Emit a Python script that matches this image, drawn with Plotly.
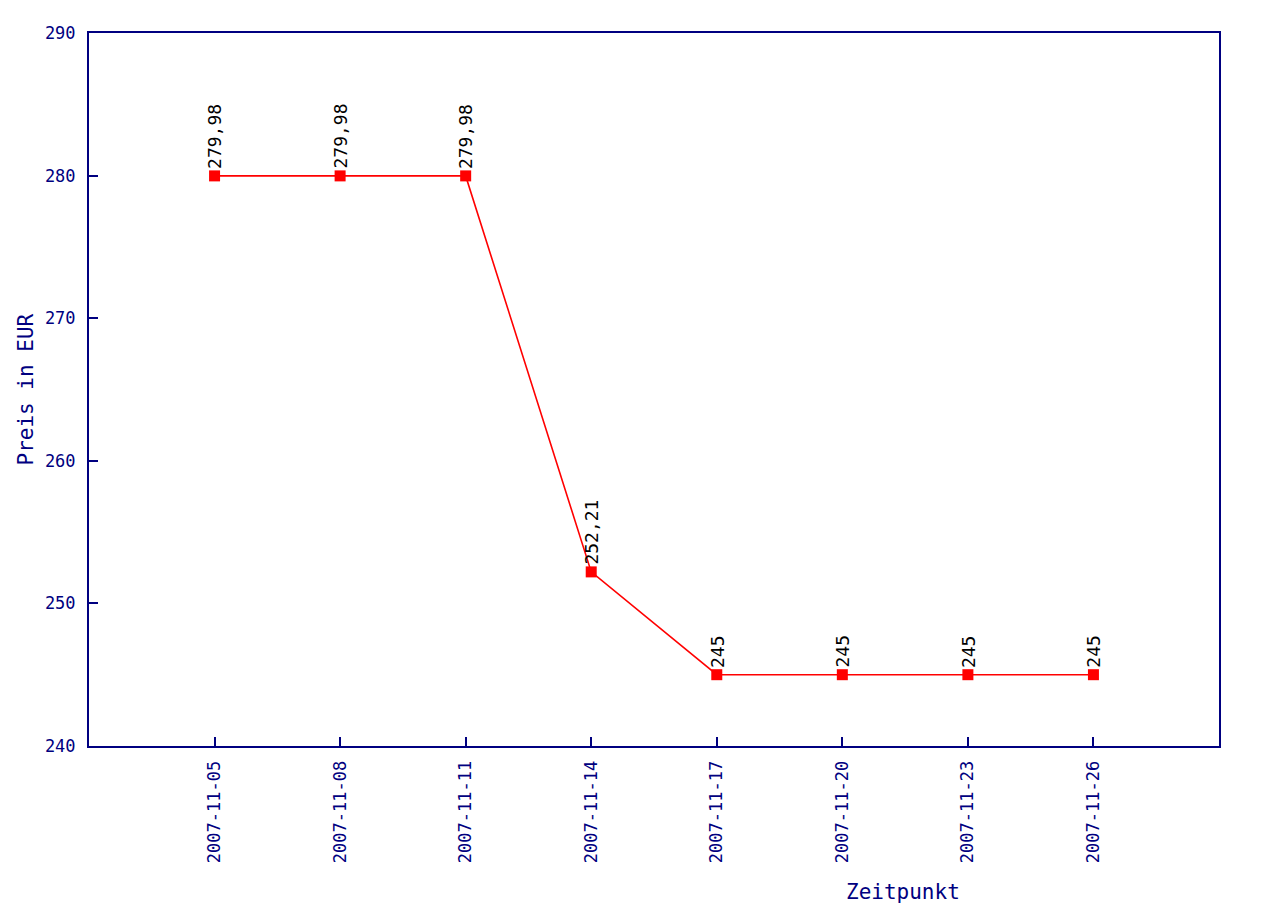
import plotly.graph_objects as go

dates = ["2007-11-05", "2007-11-08", "2007-11-11", "2007-11-14",
         "2007-11-17", "2007-11-20", "2007-11-23", "2007-11-26"]
prices = [279.98, 279.98, 279.98, 252.21, 245, 245, 245, 245]
price_labels = ["279,98", "279,98", "279,98", "252,21", "245", "245", "245", "245"]
y_ticks = [240, 250, 260, 270, 280, 290]

NAVY = "#000080"
FONT = "DejaVu Sans Mono"
L, R, T, B = 89, 1219, 33, 746
PW, PH = R - L, B - T

fig = go.Figure()
fig.add_trace(go.Scatter(
    x=dates, y=prices, mode="lines+markers",
    line=dict(color="#ff0000", width=1.6),
    marker=dict(symbol="square", size=11, color="#ff0000"),
    showlegend=False, hoverinfo="skip",
))

for d, p, lab in zip(dates, prices, price_labels):
    fig.add_annotation(x=d, y=p, text=lab, textangle=-90, showarrow=False,
                       xanchor="center", yanchor="bottom", yshift=5,
                       font=dict(family=FONT, size=18, color="#000000"))

fig.add_annotation(xref="paper", yref="paper", x=(903 - L) / PW, y=-(892 - B) / PH,
                   text="Zeitpunkt", showarrow=False, xanchor="center", yanchor="middle",
                   font=dict(family=FONT, size=21, color=NAVY))
fig.add_annotation(xref="paper", yref="paper", x=(25 - L) / PW, y=0.5,
                   text="Preis in EUR", textangle=-90, showarrow=False,
                   xanchor="center", yanchor="middle",
                   font=dict(family=FONT, size=21, color=NAVY))

fig.update_layout(
    width=1280, height=916,
    margin=dict(l=L, r=1280 - R, t=T, b=916 - B),
    paper_bgcolor="white", plot_bgcolor="white",
    font=dict(family=FONT, color=NAVY),
)
fig.update_xaxes(
    type="category", categoryorder="array", categoryarray=dates,
    range=[-1, len(dates)],
    showline=True, linecolor=NAVY, linewidth=2, mirror=True,
    ticks="inside", ticklen=9, tickwidth=2, tickcolor=NAVY,
    tickangle=-90, tickfont=dict(family=FONT, size=17, color=NAVY),
    ticklabelstandoff=6,
    showgrid=False, zeroline=False,
)
fig.update_yaxes(
    range=[240, 290], tickvals=y_ticks, ticktext=[str(v) for v in y_ticks],
    showline=True, linecolor=NAVY, linewidth=2, mirror=True,
    ticks="inside", ticklen=9, tickwidth=2, tickcolor=NAVY,
    tickfont=dict(family=FONT, size=17, color=NAVY),
    ticklabelstandoff=8,
    showgrid=False, zeroline=False,
)

fig.write_html("out.html")
